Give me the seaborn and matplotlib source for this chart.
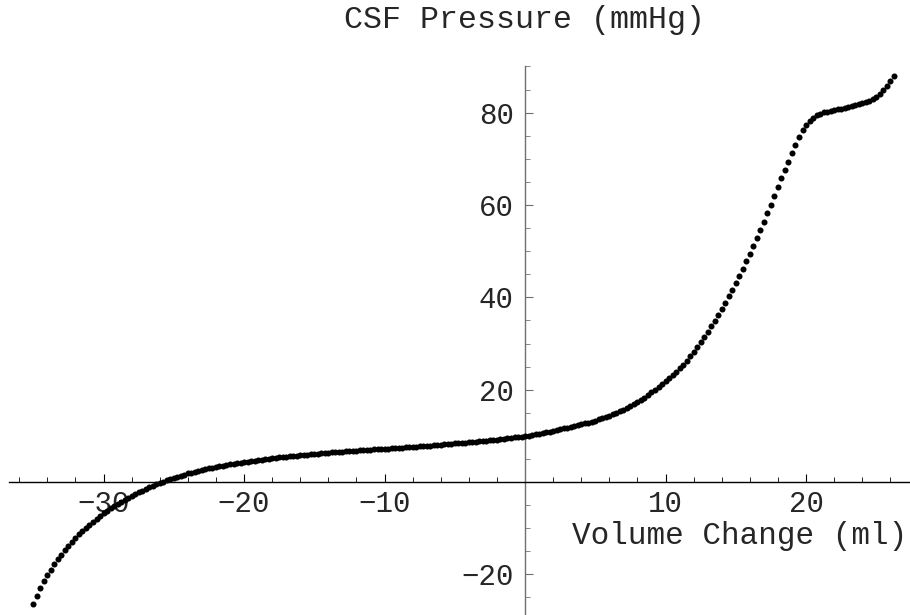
import numpy as np
import pandas as pd
import matplotlib
matplotlib.use("Agg")
import matplotlib.pyplot as plt
import seaborn as sns

# Volume change (ml), sampled every 0.25 ml from -35 to 26.25
vol_start, vol_end, n_points = -35, 26.25, 246

# CSF pressure (mmHg), one row per ml
pressure = [
    -26.4, -24.6, -23.0, -21.5,
    -20.2, -18.95, -17.8, -16.7,
    -15.7, -14.7, -13.8, -12.95,
    -12.1, -11.3, -10.6, -9.9,
    -9.2, -8.55, -7.9, -7.3,
    -6.7, -6.2, -5.7, -5.2,
    -4.7, -4.25, -3.8, -3.4,
    -3.0, -2.6, -2.2, -1.85,
    -1.5, -1.15, -0.8, -0.5,
    -0.2, 0.1, 0.4, 0.65,
    0.9, 1.15, 1.4, 1.63,
    1.85, 2.05, 2.25, 2.43,
    2.6, 2.77, 2.94, 3.1,
    3.25, 3.39, 3.53, 3.67,
    3.8, 3.93, 4.06, 4.18,
    4.3, 4.42, 4.53, 4.64,
    4.75, 4.85, 4.95, 5.05,
    5.15, 5.24, 5.33, 5.42,
    5.5, 5.58, 5.65, 5.73,
    5.8, 5.88, 5.95, 6.03,
    6.1, 6.16, 6.23, 6.29,
    6.35, 6.41, 6.48, 6.54,
    6.6, 6.65, 6.7, 6.75,
    6.8, 6.85, 6.9, 6.95,
    7.0, 7.05, 7.1, 7.15,
    7.2, 7.25, 7.3, 7.35,
    7.4, 7.45, 7.5, 7.55,
    7.6, 7.66, 7.72, 7.79,
    7.85, 7.91, 7.97, 8.04,
    8.1, 8.16, 8.22, 8.29,
    8.35, 8.41, 8.47, 8.54,
    8.6, 8.67, 8.75, 8.82,
    8.9, 8.97, 9.05, 9.12,
    9.2, 9.28, 9.37, 9.46,
    9.55, 9.65, 9.75, 9.85,
    9.95, 10.07, 10.2, 10.35,
    10.5, 10.64, 10.79, 10.94,
    11.1, 11.27, 11.44, 11.62,
    11.8, 11.97, 12.14, 12.32,
    12.5, 12.68, 12.88, 13.08,
    13.3, 13.55, 13.81, 14.09,
    14.4, 14.7, 15.02, 15.35,
    15.7, 16.08, 16.47, 16.88,
    17.3, 17.8, 18.3, 18.85,
    19.4, 20.0, 20.6, 21.25,
    21.9, 22.55, 23.2, 23.9,
    24.6, 25.45, 26.3, 27.25,
    28.2, 29.25, 30.3, 31.4,
    32.5, 33.7, 34.95, 36.2,
    37.5, 38.85, 40.25, 41.65,
    43.1, 44.65, 46.2, 47.8,
    49.4, 51.1, 52.85, 54.6,
    56.4, 58.25, 60.1, 62.0,
    63.9, 65.8, 67.6, 69.4,
    71.2, 73.0, 74.8, 76.3,
    77.4, 78.3, 78.9, 79.4,
    79.8, 80.05, 80.25, 80.45,
    80.6, 80.75, 80.9, 81.05,
    81.2, 81.38, 81.58, 81.78,
    82.0, 82.3, 82.6, 83.0,
    83.4, 84.05, 84.8, 85.7,
    86.8, 88.0,
]

x_ticks = [-30, -20, -10, 10, 20]
y_ticks = [-20, 20, 40, 60, 80]

df = pd.DataFrame({
    "volume": np.linspace(vol_start, vol_end, n_points),
    "pressure": pressure,
})

sns.set_style("white")
plt.rcParams["font.family"] = ["Liberation Mono", "DejaVu Sans Mono"]

fig = plt.figure(figsize=(9.1, 6.15), dpi=100)
ax = fig.add_axes([0, 0, 1, 1])

sns.scatterplot(data=df, x="volume", y="pressure", ax=ax, color="black",
                s=19, linewidth=0, zorder=5, clip_on=False)

ax.set_xlim(-37.37, 27.40)
ax.set_ylim(-28.8, 104.4)

# axes cross at the origin, Mathematica style
ax.spines["left"].set_position(("data", 0))
ax.spines["bottom"].set_position(("data", 0))
ax.spines["top"].set_visible(False)
ax.spines["right"].set_visible(False)
ax.spines["bottom"].set_bounds(-36.7, 27.4)
ax.spines["left"].set_bounds(-28.8, 90)
ax.spines["bottom"].set_color("black")
ax.spines["left"].set_color("#707070")
ax.spines["bottom"].set_linewidth(1.0)
ax.spines["left"].set_linewidth(1.0)

ax.set_xticks(x_ticks)
ax.set_yticks(y_ticks)
ax.set_xticks(np.arange(-36, 27, 2), minor=True)
ax.set_yticks(np.arange(-25, 91, 5), minor=True)
ax.tick_params(which="both", bottom=True, left=True, top=False, right=False)
ax.tick_params(axis="x", which="major", direction="in", length=6, width=0.8,
               color="black", labelsize=21, pad=6)
ax.tick_params(axis="x", which="minor", direction="in", length=3.5, width=0.6,
               color="black")
ax.tick_params(axis="y", which="major", direction="in", length=6, width=0.8,
               color="#707070", labelsize=21, pad=8)
ax.tick_params(axis="y", which="minor", direction="in", length=3.5, width=0.6,
               color="#707070")
ax.set_xlabel("")
ax.set_ylabel("")

fig.text(524 / 910, 1 - 20 / 615, "CSF Pressure (mmHg)", ha="center",
         va="center", fontsize=22.8)
fig.text(907 / 910, 1 - 536 / 615, "Volume Change (ml)", ha="right",
         va="center", fontsize=22.3)

plt.savefig("out.png", dpi=100)
